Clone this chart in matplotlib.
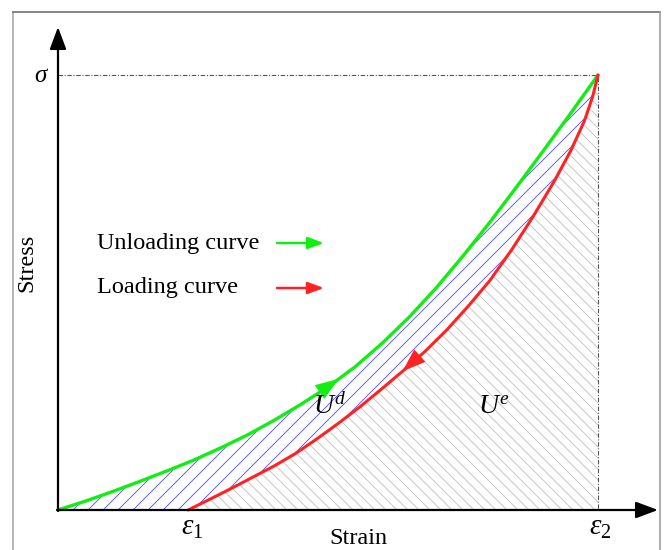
import numpy as np
import matplotlib
matplotlib.use('Agg')
from matplotlib import pyplot as plt
from matplotlib.patches import Polygon
from matplotlib.collections import LineCollection

# Datos (deformacion y tension normalizadas)
eps1 = 0.241
eps2 = 1.0
sigma = 1.0

unload_x = [0.0, 0.05, 0.10, 0.15, 0.20, 0.25, 0.30, 0.35, 0.40, 0.45, 0.50,
            0.55, 0.60, 0.65, 0.70, 0.75, 0.80, 0.85, 0.90, 0.95, 1.0]
unload_y = [0.0, 0.020, 0.042, 0.065, 0.089, 0.114, 0.142, 0.172, 0.206, 0.243, 0.283,
            0.329, 0.383, 0.443, 0.510, 0.584, 0.662, 0.744, 0.828, 0.913, 1.0]

load_x = [0.241, 0.28, 0.32, 0.36, 0.40, 0.44, 0.48, 0.52, 0.56, 0.60, 0.64,
          0.68, 0.72, 0.76, 0.80, 0.84, 0.88, 0.92, 0.95, 0.975, 0.99, 1.0]
load_y = [0.0, 0.024, 0.049, 0.075, 0.101, 0.130, 0.164, 0.200, 0.238, 0.279, 0.321,
          0.365, 0.414, 0.469, 0.528, 0.598, 0.675, 0.758, 0.827, 0.895, 0.950, 1.0]

legend_labels = ['Unloading curve', 'Loading curve']
legend_colors = ['#11ee11', '#ff2222']

# Escala: pixeles por unidad
X0, Y0, SX, SY = 58, 510, 540, 435
W, H = 665, 550


def p(px, py):
    return ((px - X0) / SX, (Y0 - py) / SY)


plt.rcParams['font.family'] = 'Liberation Serif'
plt.rcParams['mathtext.fontset'] = 'custom'
plt.rcParams['mathtext.rm'] = 'Liberation Serif'
plt.rcParams['mathtext.it'] = 'Liberation Serif:italic'

fig = plt.figure(figsize=(W / 100, H / 100), dpi=100)
ax = fig.add_axes([0, 0, 1, 1])
ax.set_xlim(-X0 / SX, (W - X0) / SX)
ax.set_ylim((Y0 - H) / SY, Y0 / SY)
ax.axis('off')

# Marco gris
bx0, by1 = p(12.5, 12)
bx1 = p(660, 0)[0]
ybot = p(0, 560)[1]
ax.plot([bx0, bx0], [ybot, by1], color='#b0b0b0', lw=1.3)
ax.plot([bx0, bx1], [by1, by1], color='#707070', lw=1.2)
ax.plot([bx1, bx1], [by1, ybot], color='#a0a0a0', lw=1.2)

ux, uy = np.array(unload_x), np.array(unload_y)
lx, ly = np.array(load_x), np.array(load_y)

# Regiones
blue_poly = np.vstack([np.column_stack([ux, uy]),
                       np.column_stack([lx[::-1], ly[::-1]]),
                       [[0, 0]]])
gray_poly = np.vstack([np.column_stack([lx, ly]), [[eps2, 0]], [[eps1, 0]]])


def hatch(poly, spacing_px, sign, color, lw):
    patch = Polygon(poly, closed=True, fill=False, lw=0)
    ax.add_patch(patch)
    k = SX / SY  # 45 grados en pantalla
    step = spacing_px / SX
    cs = np.arange(-2, 3, step)
    segs = [[(c - 1, -sign * k), (c + 1, sign * k)] for c in cs]
    lc = LineCollection(segs, colors=color, linewidths=lw)
    ax.add_collection(lc)
    lc.set_clip_path(patch)


hatch(gray_poly, 11, -1, '#c6c6c6', 0.7)
hatch(blue_poly, 15, 1, '#4a4aff', 0.6)

# Lineas de referencia
ax.plot([0, eps2, eps2], [sigma, sigma, 0], color='#555555', lw=0.8,
        ls=(0, (4, 1.5, 1, 1.5)))

# Curvas
ax.plot(ux, uy, color=legend_colors[0], lw=2.4, solid_capstyle='round')
ax.plot(lx, ly, color=legend_colors[1], lw=2.2, solid_capstyle='round')


def head(x_tail, x_tip, xs, ys, color):
    ax.annotate('', xy=(x_tip, np.interp(x_tip, xs, ys)),
                xytext=(x_tail, np.interp(x_tail, xs, ys)),
                arrowprops=dict(arrowstyle='-|>,head_length=0.7,head_width=0.25',
                                mutation_scale=24, color=color, lw=0,
                                shrinkA=0, shrinkB=0))


head(0.47, 0.52, ux, uy, legend_colors[0])
head(0.69, 0.638, lx, ly, legend_colors[1])

# Ejes con flechas
akw = dict(arrowstyle='-|>,head_length=0.75,head_width=0.28', mutation_scale=18,
           color='black', lw=1.6, shrinkA=0, shrinkB=0)
ax.annotate('', xy=p(658, Y0), xytext=p(X0 - 1, Y0), arrowprops=akw)
ax.annotate('', xy=p(X0, 27), xytext=p(X0, Y0 + 1), arrowprops=akw)

# Leyenda
for i, (lab, col) in enumerate(zip(legend_labels, legend_colors)):
    yy = 243 + 45 * i
    ax.text(*p(97, yy), lab, fontsize=17.5, ha='left', va='center')
    ax.annotate('', xy=p(324, yy), xytext=p(277, yy),
                arrowprops=dict(arrowstyle='-|>,head_length=0.6,head_width=0.22',
                                mutation_scale=16, color=col, lw=1.8,
                                shrinkA=0, shrinkB=0))

# Textos
ax.text(*p(42, 76), r'$\sigma$', fontsize=18, ha='center', va='center')
ax.text(*p(192, 528), r'$\varepsilon_{\mathit{1}}$', fontsize=21, ha='center', va='center')
ax.text(*p(600, 528), r'$\varepsilon_{\mathit{2}}$', fontsize=21, ha='center', va='center')
ax.text(*p(330, 407), r'$U^d$', fontsize=20, ha='center', va='center')
ax.text(*p(494, 407), r'$U^e$', fontsize=20, ha='center', va='center')
ax.text(*p(358, 538), 'Strain', fontsize=17.5, ha='center', va='center')
ax.text(*p(27, 263), 'Stress', fontsize=17.5, ha='center', va='center', rotation=90)

fig.savefig('out.png', dpi=100)
